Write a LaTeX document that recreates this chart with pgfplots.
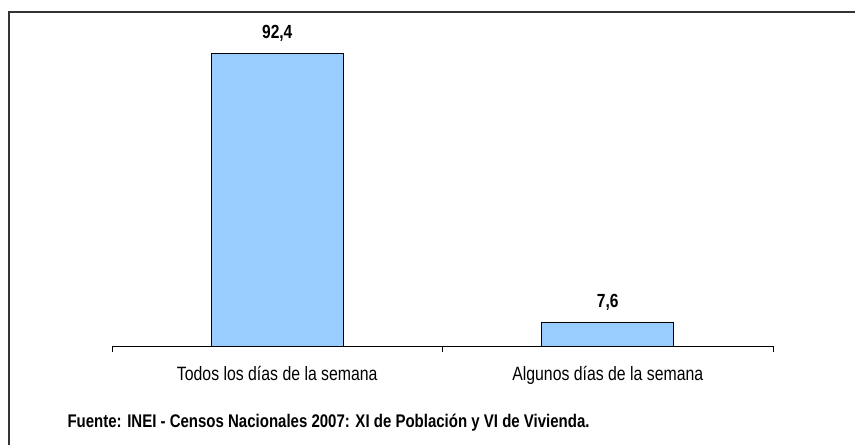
\documentclass[border=0pt]{standalone}
\usepackage{fontspec}
\setmainfont{Liberation Sans}[FakeStretch=0.82]
\usepackage{pgfplots}
\pgfplotsset{compat=1.18}
\definecolor{barblue}{HTML}{99CCFF}
\definecolor{framegray}{HTML}{333333}
\begin{document}
\fontsize{19}{22}\selectfont
\begin{tikzpicture}
\path[use as bounding box] (0pt,0pt) rectangle (855pt,445pt);
\draw[framegray, line width=1.5pt] (9pt,0pt) -- (9pt,433pt) -- (855pt,433pt);
\begin{axis}[
  at={(112pt,99pt)}, anchor=south west,
  scale only axis,
  width=661pt, height=317pt,
  xmin=-0.5, xmax=1.5,
  ymin=0, ymax=100,
  axis x line=bottom,
  axis y line=none,
  axis line style={black, line width=0.8pt, -},
  xtick={0,1},
  xticklabels={Todos los días de la semana, Algunos días de la semana},
  major tick length=0pt,
  minor xtick={-0.5,0.5,1.5},
  minor tick length=6pt,
  tick align=outside,
  tick style={black, line width=0.8pt},
  xticklabel style={font=\fontsize{19.3}{22}\selectfont, yshift=-14pt},
  ybar, bar width=132pt,
  nodes near coords,
  nodes near coords style={font=\fontsize{19}{22}\selectfont\bfseries, yshift=5pt,
    /pgf/number format/.cd, use comma, fixed, fixed zerofill, precision=1, assume math mode=true},
  clip=false,
]
\addplot[fill=barblue, draw=black, line width=0.8pt] coordinates {(0,92.4) (1,7.6)};
\end{axis}
\node[anchor=west, font=\fontsize{18.3}{21}\selectfont\bfseries] at (61pt,22pt) {Fuente: INEI - Censos Nacionales 2007: XI de Población y VI de Vivienda.};
\end{tikzpicture}
\end{document}
